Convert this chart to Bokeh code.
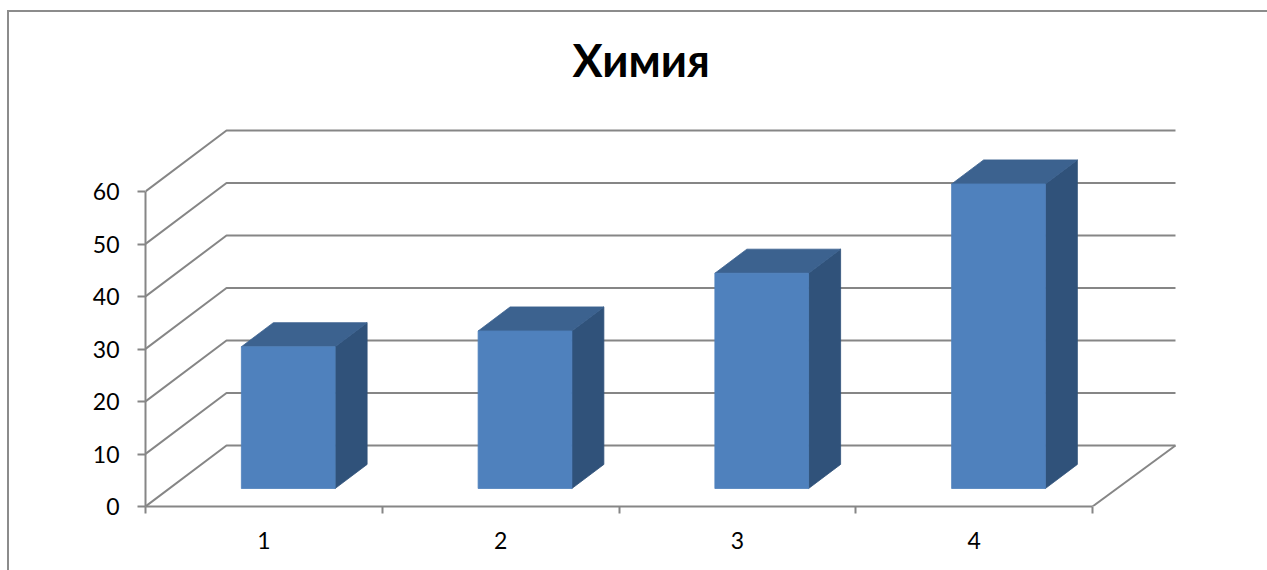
from bokeh.plotting import figure
from bokeh.embed import file_html
from bokeh.resources import INLINE
from bokeh.models import (LinearAxis, FixedTicker, Range1d, Title, InlineStyleSheet)

# --- data ---
title_text = "Химия"
categories = ["1", "2", "3", "4"]
values = [27, 30, 41, 58]
y_ticks = [0, 10, 20, 30, 40, 50, 60]

# --- style / scale ---
GRAY = "#868686"
FRONT = "#4f81bd"
SIDE = "#30527a"
TOP = "#3c628f"
FONT = "Lato"

W, H = 1267, 570
L, R, T, B = 145, 87, 91, 64      # frame margins inside the canvas
PX_X = 236.75                     # pixels per category
PX_Y = 5.25                       # pixels per value unit
frame_w, frame_h = W - L - R, H - T - B

p = figure(width=W, height=H, output_backend="svg", toolbar_location=None,
           x_axis_type=None, y_axis_type=None,
           x_range=Range1d(0, frame_w / PX_X), y_range=Range1d(0, frame_h / PX_Y),
           min_border_left=L, min_border_right=R, min_border_top=T, min_border_bottom=B)
p.grid.visible = False
p.outline_line_color = None
p.background_fill_color = "white"
p.border_fill_color = "white"

# oblique projection of the 3-D box
DX = 81 / PX_X        # wall depth in x units
DY = 61 / PX_Y        # wall depth in y units
RIGHT_END = 1030 / PX_X
BAR_FROM, BAR_TO = 0.304, 0.70
NEAR = 0.295          # bar front, share of the depth
FAR = 0.69            # bar back, share of the depth

# walls and grid lines
xs, ys = [], []
for v in y_ticks:
    xs.append([0, DX, RIGHT_END])
    ys.append([v, v + DY, v + DY])
xs.append([len(categories), RIGHT_END])
ys.append([0, DY])
p.multi_line(xs, ys, line_color=GRAY, line_width=2)

# bars
for i, v in enumerate(values):
    x0 = i + BAR_FROM + NEAR * DX
    x1 = i + BAR_TO + NEAR * DX
    y0 = NEAR * DY
    y1 = v + NEAR * DY
    ox = (FAR - NEAR) * DX
    oy = (FAR - NEAR) * DY
    p.patch([x1, x1 + ox, x1 + ox, x1], [y0, y0 + oy, y1 + oy, y1],
            fill_color=SIDE, line_color=SIDE, line_width=0.8)
    p.patch([x0, x1, x1 + ox, x0 + ox], [y1, y1, y1 + oy, y1 + oy],
            fill_color=TOP, line_color=TOP, line_width=0.8)
    p.patch([x0, x1, x1, x0], [y0, y0, y1, y1],
            fill_color=FRONT, line_color=FRONT, line_width=0.8)

# value axis
ya = LinearAxis(ticker=FixedTicker(ticks=y_ticks), bounds=(0, 60))
ya.axis_line_color = GRAY
ya.axis_line_width = 2
ya.major_tick_line_color = GRAY
ya.major_tick_line_width = 2
ya.major_tick_out = 8
ya.major_tick_in = 0
ya.minor_tick_line_color = None
ya.major_label_text_font = FONT
ya.major_label_text_font_size = "23px"
ya.major_label_text_color = "black"
ya.major_label_standoff = 18
p.add_layout(ya, "left")

# category axis: marks between categories, labels at their centres
centres = [i + 0.5 for i in range(len(categories))]
xa = LinearAxis(ticker=FixedTicker(ticks=centres,
                                   minor_ticks=list(range(len(categories) + 1))),
                bounds=(0, len(categories)))
xa.major_label_overrides = dict(zip(centres, categories))
xa.axis_line_color = GRAY
xa.axis_line_width = 2
xa.major_tick_line_color = None
xa.major_tick_out = 0
xa.minor_tick_line_color = GRAY
xa.minor_tick_line_width = 2
xa.minor_tick_out = 7
xa.minor_tick_in = 0
xa.major_label_text_font = FONT
xa.major_label_text_font_size = "23px"
xa.major_label_text_color = "black"
xa.major_label_standoff = 18
p.add_layout(xa, "below")

# title
t = Title(text=title_text, text_font=FONT, text_font_size="45px",
          text_font_style="bold", text_color="black", align="left", offset=427)
p.add_layout(t, "above")

# chart border: top and left edges only
p.stylesheets = [InlineStyleSheet(css=(
    ":host::before { content: ''; position: absolute; left: 7px; top: 10px;"
    " right: 0; bottom: 0; border-top: 2px solid #8c8c8c;"
    " border-left: 2px solid #8c8c8c; z-index: 5; pointer-events: none; }"))]

open("out.html", "w").write(file_html(p, INLINE))
